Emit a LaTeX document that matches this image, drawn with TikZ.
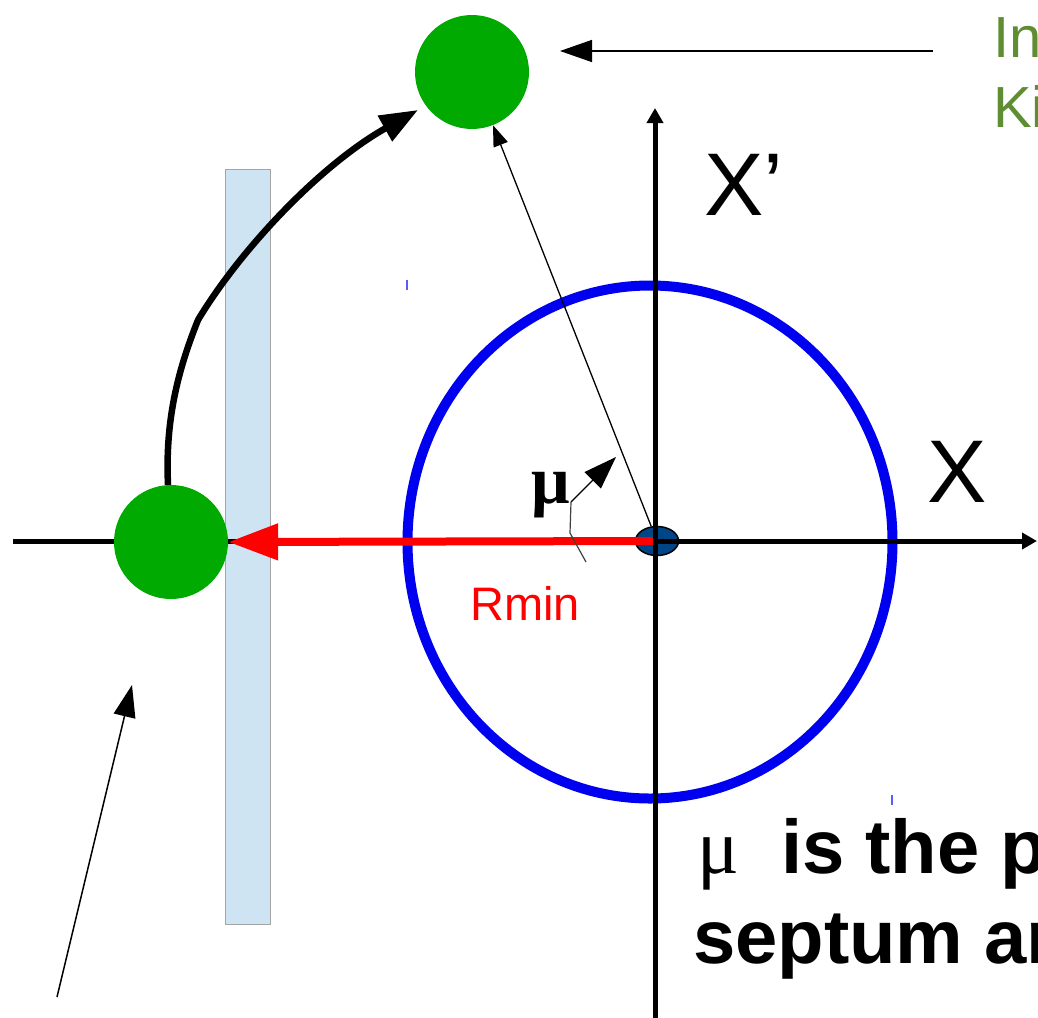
\documentclass[tikz,border=0pt]{standalone}
\usepackage{fontspec}
\setmainfont{Liberation Sans}
\newfontfamily\serifmu{Liberation Serif}
\usetikzlibrary{arrows.meta,shapes.geometric}
\definecolor{septumfill}{RGB}{207,228,242}
\definecolor{septumedge}{RGB}{165,165,165}
\definecolor{ballgreen}{RGB}{0,170,0}
\definecolor{txtgreen}{RGB}{94,142,49}
\definecolor{dotblue}{RGB}{0,69,134}
\definecolor{tickblue}{RGB}{90,90,255}
\definecolor{orbitblue}{RGB}{0,0,240}
\begin{document}
\begin{tikzpicture}[x=1pt,y=-1pt,
  septumbox/.style={draw=septumedge, fill=septumfill, line width=1pt, minimum width=45pt, minimum height=755pt, inner sep=0pt},
  orbitring/.style={draw=orbitblue, line width=10pt, ellipse, minimum width=485pt, minimum height=513pt, inner sep=0pt},
  ball/.style={circle, fill=ballgreen, minimum size=114pt, inner sep=0pt},
  axisline/.style={line width=5pt, -{Triangle[length=15pt,width=16pt]}},
  redarrow/.style={red, line width=8pt, -{Triangle[length=50pt,width=35pt]}},
  curvearrow/.style={line width=6.5pt, -{Triangle[length=38pt,width=28pt]}},
  thinarrow/.style={line width=1.5pt, -{Triangle[length=32pt,width=22pt]}},
  smallarrow/.style={line width=1.3pt, -{Triangle[length=21pt,width=15pt]}},
  thinline/.style={line width=1.2pt, black!75},
  blip/.style={tickblue, line width=1.4pt},
  lbl/.style={inner sep=0pt, anchor=base west}
]
\useasboundingbox (0,0) rectangle (1038,1017);
\clip (0,0) rectangle (1038,1017);

% septum
\node[septumbox] (sep) at (247.5,546.5) {};

% orbit
\node[orbitring] (orbit) at (650,542) {};

% centre dot
\node[ellipse, draw, line width=1.5pt, fill=dotblue, minimum width=43pt, minimum height=29pt, inner sep=0pt] (dot) at (657,541) {};

% axes
\coordinate (xl) at (13,541);
\coordinate (xr) at (1037,541);
\coordinate (yb) at (655,1025);
\coordinate (yt) at (655,108);
\draw[axisline] (xl) -- (xr);

% balls
\node[ball] (bot) at (171,542) {};
\node[ball] (top) at (472,72) {};

% red Rmin arrow
\draw[redarrow] (dot.center) -- (bot.east);
\draw[axisline] (yb) -- (yt);

% curved trajectory
\coordinate (kink) at (198,320);
\coordinate (ctip) at (418,110);
\draw[curvearrow] (bot.93) .. controls (165,420) and (178,370) .. (kink)
  .. controls (240,250) and (320,165) .. (ctip);

% thin arrow from centre to extracted beam
\draw[smallarrow] (dot) -- (top);

% top horizontal arrow
\coordinate (h0) at (933,51);
\coordinate (h1) at (560,51);
\draw[thinarrow] (h0) -- (h1);

% bottom-left arrow
\coordinate (b0) at (57,997);
\coordinate (b1) at (132,685);
\draw[thinarrow] (b0) -- (b1);

% mu angle
\coordinate (m0) at (571,502);
\coordinate (m1) at (616,457);
\coordinate (m2) at (570,533);
\coordinate (m3) at (586,562);
\draw[thinline] (m0) -- (m2) -- (m3);
\draw[line width=1.2pt, -{Triangle[length=33pt,width=23pt]}] (m0) -- (m1);
\node[lbl] (mu) at (531,503) {\serifmu\bfseries\fontsize{68}{68}\selectfont μ};

% blips
\draw[blip] (407,280) -- (407,290);
\draw[blip] (892,795) -- (892,805);

% labels
\node[lbl] (xp) at (704,215) {\fontsize{89}{89}\selectfont X’};
\node[lbl] (xx) at (927,502) {\fontsize{89}{89}\selectfont X};
\node[lbl, red] (rmin) at (470,620) {\fontsize{47}{47}\selectfont Rmin};
\node[lbl, txtgreen] (in) at (993,57) {\fontsize{58}{58}\selectfont In};
\node[lbl, txtgreen] (ki) at (993,127) {\fontsize{58}{58}\selectfont Ki};
\node[lbl] (mu2) at (697,873) {\serifmu\fontsize{78}{78}\selectfont μ};
\node[lbl] (l1) at (781,873) {\bfseries\fontsize{76}{76}\selectfont is the p};
\node[lbl] (l2) at (693,963) {\bfseries\fontsize{76}{76}\selectfont septum ar};
\end{tikzpicture}
\end{document}
